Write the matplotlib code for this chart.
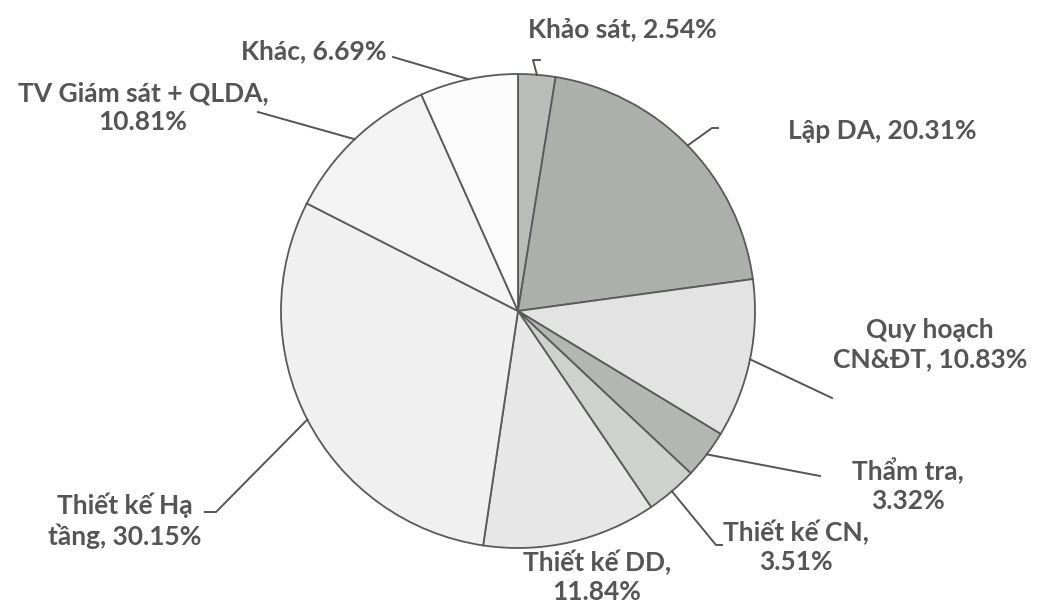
import numpy as np
import matplotlib
matplotlib.use('Agg')
import matplotlib.pyplot as plt

labels = ['Khảo sát, 2.54%', 'Lập DA, 20.31%', 'Quy hoạch\nCN&ĐT, 10.83%', 'Thẩm tra,\n3.32%',
          'Thiết kế CN,\n3.51%', 'Thiết kế DD,\n11.84%', 'Thiết kế Hạ\ntầng, 30.15%',
          'TV Giám sát + QLDA,\n10.81%', 'Khác, 6.69%']
shares = [2.54, 20.31, 10.83, 3.32, 3.51, 11.84, 30.15, 10.81, 6.69]
colors = ['#b9bdb9', '#abb0ab', '#e2e3e2', '#b3b6b3', '#cfd1cf', '#e6e7e6', '#f0f0f0', '#f3f3f3', '#fcfcfc']

# label placement in pixel coords (x, y from top), plus the elbow of the leader line
label_pos = [(622, 29), (882, 131), (930, 345), (908, 485), (796, 547), (597, 577), (125, 521), (143, 108), (314, 51)]
elbow = [(533, 60), (712, 128), (832, 398), (820, 476), (716, 545), None, (216, 512), (258, 112), (393, 57)]
tail = [(540, 60), (718, 128), None, None, (722, 545), None, (205, 512), None, None]

W, H = 1043, 607
cx, cy, R = 518, H - 311, 237

fig = plt.figure(figsize=(W / 100, H / 100), dpi=100)
ax = fig.add_axes([0, 0, 1, 1])

wedges, _ = ax.pie(shares, colors=colors, startangle=90, counterclock=False, center=(cx, cy), radius=R,
                   wedgeprops=dict(edgecolor='#5a5a5a', linewidth=1.3))
ax.set_xlim(0, W)
ax.set_ylim(0, H)
ax.set_aspect('equal')
ax.axis('off')

txt = dict(fontfamily='Lato', fontweight='bold', fontsize=19, color='#555555',
           ha='center', va='center', multialignment='center', linespacing=1.25)

for w, lab, pos, el, tl in zip(wedges, labels, label_pos, elbow, tail):
    ax.text(pos[0], H - pos[1], lab, **txt)
    if el is None:
        continue
    ang = np.deg2rad((w.theta1 + w.theta2) / 2)
    px, py = cx + R * np.cos(ang), cy + R * np.sin(ang)
    xs, ys = [px, el[0]], [py, H - el[1]]
    if tl is not None:
        xs.append(tl[0])
        ys.append(H - tl[1])
    ax.plot(xs, ys, color='#555555', lw=1.4)

fig.savefig('out.png', dpi=100, facecolor='white')
